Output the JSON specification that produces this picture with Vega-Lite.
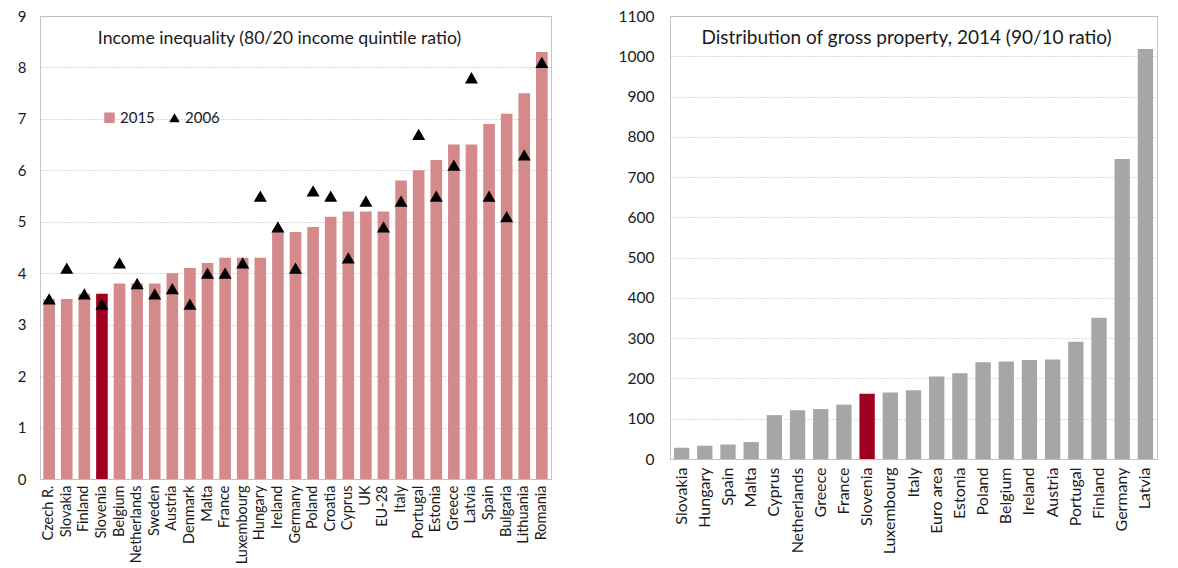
{
  "$schema": "https://vega.github.io/schema/vega-lite/v6.json",
  "background": "white",
  "padding": {"left": 16, "top": 8, "right": 0, "bottom": 0},
  "spacing": 65,
  "config": {
    "font": "Lato",
    "view": {"stroke": "#c6c6c6", "strokeWidth": 1},
    "axis": {"labelFont": "Lato", "labelColor": "#1a1a1a", "domain": false, "ticks": false, "tickSize": 0, "title": null},
    "title": {"font": "Lato", "fontWeight": "normal", "color": "#1a1a1a", "fontSize": 17.7}
  },
  "datasets": {
    "income": [
      {"country": "Czech R.", "year": "2015", "value": 3.5}, {"country": "Czech R.", "year": "2006", "value": 3.5},
      {"country": "Slovakia", "year": "2015", "value": 3.5}, {"country": "Slovakia", "year": "2006", "value": 4.1},
      {"country": "Finland", "year": "2015", "value": 3.6}, {"country": "Finland", "year": "2006", "value": 3.6},
      {"country": "Slovenia", "year": "2015", "value": 3.6}, {"country": "Slovenia", "year": "2006", "value": 3.4},
      {"country": "Belgium", "year": "2015", "value": 3.8}, {"country": "Belgium", "year": "2006", "value": 4.2},
      {"country": "Netherlands", "year": "2015", "value": 3.8}, {"country": "Netherlands", "year": "2006", "value": 3.8},
      {"country": "Sweden", "year": "2015", "value": 3.8}, {"country": "Sweden", "year": "2006", "value": 3.6},
      {"country": "Austria", "year": "2015", "value": 4.0}, {"country": "Austria", "year": "2006", "value": 3.7},
      {"country": "Denmark", "year": "2015", "value": 4.1}, {"country": "Denmark", "year": "2006", "value": 3.4},
      {"country": "Malta", "year": "2015", "value": 4.2}, {"country": "Malta", "year": "2006", "value": 4.0},
      {"country": "France", "year": "2015", "value": 4.3}, {"country": "France", "year": "2006", "value": 4.0},
      {"country": "Luxembourg", "year": "2015", "value": 4.3}, {"country": "Luxembourg", "year": "2006", "value": 4.2},
      {"country": "Hungary", "year": "2015", "value": 4.3}, {"country": "Hungary", "year": "2006", "value": 5.5},
      {"country": "Ireland", "year": "2015", "value": 4.8}, {"country": "Ireland", "year": "2006", "value": 4.9},
      {"country": "Germany", "year": "2015", "value": 4.8}, {"country": "Germany", "year": "2006", "value": 4.1},
      {"country": "Poland", "year": "2015", "value": 4.9}, {"country": "Poland", "year": "2006", "value": 5.6},
      {"country": "Croatia", "year": "2015", "value": 5.1}, {"country": "Croatia", "year": "2006", "value": 5.5},
      {"country": "Cyprus", "year": "2015", "value": 5.2}, {"country": "Cyprus", "year": "2006", "value": 4.3},
      {"country": "UK", "year": "2015", "value": 5.2}, {"country": "UK", "year": "2006", "value": 5.4},
      {"country": "EU-28", "year": "2015", "value": 5.2}, {"country": "EU-28", "year": "2006", "value": 4.9},
      {"country": "Italy", "year": "2015", "value": 5.8}, {"country": "Italy", "year": "2006", "value": 5.4},
      {"country": "Portugal", "year": "2015", "value": 6.0}, {"country": "Portugal", "year": "2006", "value": 6.7},
      {"country": "Estonia", "year": "2015", "value": 6.2}, {"country": "Estonia", "year": "2006", "value": 5.5},
      {"country": "Greece", "year": "2015", "value": 6.5}, {"country": "Greece", "year": "2006", "value": 6.1},
      {"country": "Latvia", "year": "2015", "value": 6.5}, {"country": "Latvia", "year": "2006", "value": 7.8},
      {"country": "Spain", "year": "2015", "value": 6.9}, {"country": "Spain", "year": "2006", "value": 5.5},
      {"country": "Bulgaria", "year": "2015", "value": 7.1}, {"country": "Bulgaria", "year": "2006", "value": 5.1},
      {"country": "Lithuania", "year": "2015", "value": 7.5}, {"country": "Lithuania", "year": "2006", "value": 6.3},
      {"country": "Romania", "year": "2015", "value": 8.3}, {"country": "Romania", "year": "2006", "value": 8.1}
    ],
    "property": [
      {"country": "Slovakia", "value": 28},
      {"country": "Hungary", "value": 33},
      {"country": "Spain", "value": 36},
      {"country": "Malta", "value": 42},
      {"country": "Cyprus", "value": 109},
      {"country": "Netherlands", "value": 121},
      {"country": "Greece", "value": 124},
      {"country": "France", "value": 135},
      {"country": "Slovenia", "value": 162},
      {"country": "Luxembourg", "value": 165},
      {"country": "Italy", "value": 171},
      {"country": "Euro area", "value": 205},
      {"country": "Estonia", "value": 213},
      {"country": "Poland", "value": 240},
      {"country": "Belgium", "value": 242},
      {"country": "Ireland", "value": 246},
      {"country": "Austria", "value": 247},
      {"country": "Portugal", "value": 291},
      {"country": "Finland", "value": 351},
      {"country": "Germany", "value": 745},
      {"country": "Latvia", "value": 1018}
    ]
  },
  "hconcat": [
    {
      "width": 511,
      "height": 463,
      "data": {"name": "income"},
      "title": {"text": "Income inequality (80/20 income quintile ratio)", "offset": -39, "dx": -16, "anchor": "middle"},
      "encoding": {
        "x": {"field": "country", "type": "nominal", "sort": null,
          "scale": {"paddingInner": 0.34, "paddingOuter": 0.19},
          "axis": {"labelAngle": -90, "labelAlign": "right", "labelBaseline": "middle", "labelPadding": 6, "labelFontSize": 14.5}}
      },
      "layer": [
        {
          "transform": [{"filter": "datum.year === '2015'"}],
          "mark": {"type": "bar"},
          "encoding": {
            "y": {"field": "value", "type": "quantitative", "scale": {"domain": [0, 9]},
              "axis": {"values": [0,1,2,3,4,5,6,7,8,9], "grid": true, "gridDash": [1, 2], "gridColor": "#b5b5b5", "labelPadding": 14, "labelFontSize": 15}},
            "color": {"condition": {"test": "datum.country === 'Slovenia'", "value": "#a0001e"},
              "field": "year", "type": "nominal",
              "scale": {"domain": ["2015", "2006"], "range": ["#d48a8a", "#000000"]},
              "legend": {"title": null, "orient": "none", "legendX": 62, "legendY": 94, "direction": "horizontal", "values": ["2015", "2006"], "labelFontSize": 15, "labelFont": "Lato", "labelColor": "#1a1a1a", "symbolSize": 110, "labelOffset": 3, "columnPadding": 12, "symbolStrokeWidth": 0}}
          }
        },
        {
          "transform": [{"filter": "datum.year === '2006'"}],
          "mark": {"type": "point", "filled": true, "opacity": 1, "size": 170},
          "encoding": {
            "y": {"field": "value", "type": "quantitative"},
            "color": {"field": "year", "type": "nominal"},
            "shape": {"field": "year", "type": "nominal", "scale": {"domain": ["2015", "2006"], "range": ["square", "triangle-up"]}}
          }
        }
      ]
    },
    {
      "width": 487,
      "height": 443,
      "data": {"name": "property"},
      "title": {"text": "Distribution of gross property, 2014 (90/10 ratio)", "offset": -39, "dx": -7, "anchor": "middle", "fontSize": 19},
      "mark": {"type": "bar"},
      "encoding": {
        "x": {"field": "country", "type": "nominal", "sort": null,
          "scale": {"paddingInner": 0.34, "paddingOuter": 0.17},
          "axis": {"labelAngle": -90, "labelAlign": "right", "labelBaseline": "middle", "labelPadding": 8, "labelFontSize": 16}},
        "y": {"field": "value", "type": "quantitative", "scale": {"domain": [0, 1100]},
          "axis": {"values": [0,100,200,300,400,500,600,700,800,900,1000,1100], "format": "d", "grid": true, "gridDash": [1, 2], "gridColor": "#b5b5b5", "labelPadding": 16, "labelFontSize": 15.5}},
        "color": {"condition": {"test": "datum.country === 'Slovenia'", "value": "#a0001e"}, "value": "#a6a6a6"}
      }
    }
  ]
}
